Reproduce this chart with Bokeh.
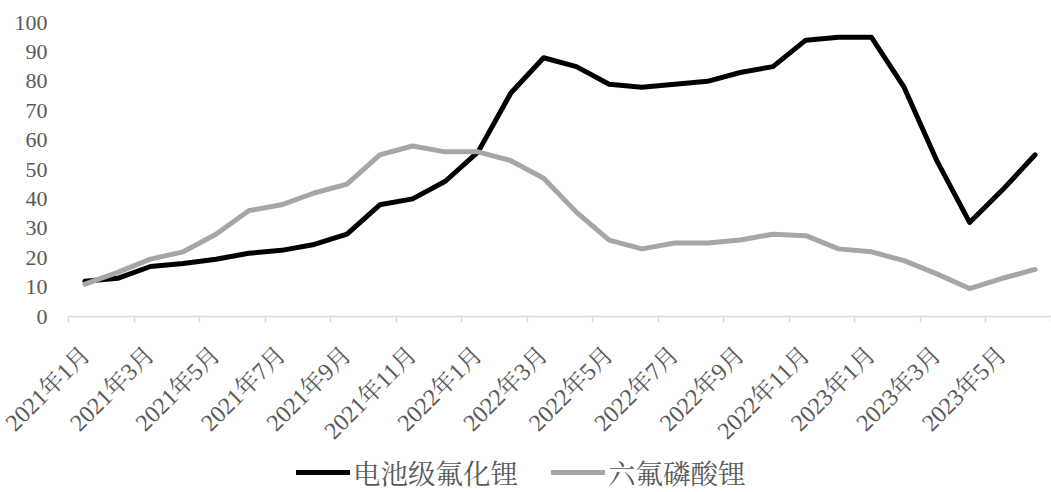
from math import pi
from bokeh.plotting import figure
from bokeh.layouts import column
from bokeh.models import (Range1d, FixedTicker, LinearAxis, Legend, LegendItem,
                          ColumnDataSource, CustomLabelingPolicy)
from bokeh.embed import file_html
from bokeh.resources import INLINE

months = ["2021年1月", "2021年2月", "2021年3月", "2021年4月", "2021年5月", "2021年6月",
          "2021年7月", "2021年8月", "2021年9月", "2021年10月", "2021年11月", "2021年12月",
          "2022年1月", "2022年2月", "2022年3月", "2022年4月", "2022年5月", "2022年6月",
          "2022年7月", "2022年8月", "2022年9月", "2022年10月", "2022年11月", "2022年12月",
          "2023年1月", "2023年2月", "2023年3月", "2023年4月", "2023年5月", "2023年6月"]
lif = [12, 13, 17, 18, 19.5, 21.5, 22.5, 24.5, 28, 38,
       40, 46, 56, 76, 88, 85, 79, 78, 79, 80,
       83, 85, 94, 95, 95, 78, 53, 32, 43, 55]
lipf6 = [11, 15, 19.5, 22, 28, 36, 38, 42, 45, 55,
         58, 56, 56, 53, 47, 35.5, 26, 23, 25, 25,
         26, 28, 27.5, 23, 22, 19, 14.5, 9.5, 13, 16]
series_names = ["电池级氟化锂", "六氟磷酸锂"]
series_colors = ["#000000", "#a6a6a6"]
y_ticks = list(range(0, 101, 10))

FONT = "'Liberation Serif', 'Noto Serif CJK SC', 'Noto Sans CJK SC', serif"
TXT = "#595959"

idx = list(range(len(months)))
src = ColumnDataSource(dict(x=idx, a=lif, b=lipf6))

p = figure(width=1051, height=458, output_backend="svg", toolbar_location=None,
           x_range=Range1d(-0.5, len(months) - 0.5), y_range=Range1d(0, 100),
           x_axis_type=None, y_axis_type=None,
           min_border_left=68, min_border_right=0, min_border_top=22, min_border_bottom=142)
p.outline_line_color = None
p.xgrid.visible = False
p.ygrid.visible = False

# y axis
ya = LinearAxis(ticker=FixedTicker(ticks=y_ticks))
ya.axis_line_color = None
ya.major_tick_line_color = None
ya.minor_tick_line_color = None
ya.major_tick_out = 0
ya.major_label_standoff = 21
ya.major_label_text_font = FONT
ya.major_label_text_font_size = "22px"
ya.major_label_text_color = TXT
p.add_layout(ya, "left")

# x axis line with tick marks at category boundaries (no labels)
hide_all = CustomLabelingPolicy(code="""
    const all = [...indices]
    for (const i of all) indices.unset(i)
    return indices
""")
xa = LinearAxis(ticker=FixedTicker(ticks=[i - 0.5 for i in range(0, len(months) + 1, 2)]),
                major_label_policy=hide_all)
xa.axis_line_color = "#d9d9d9"
xa.axis_line_width = 1.5
xa.major_tick_line_color = "#d9d9d9"
xa.major_tick_line_width = 1.5
xa.major_tick_out = 6
xa.major_tick_in = 0
xa.minor_tick_line_color = None
xa.major_label_text_font_size = "1px"
xa.major_label_standoff = 0
p.add_layout(xa, "below")

# x labels at category centres
label_ticks = idx[::2]
xl = LinearAxis(ticker=FixedTicker(ticks=label_ticks),
                major_label_overrides={i: months[i] for i in label_ticks})
xl.axis_line_color = None
xl.major_tick_line_color = None
xl.minor_tick_line_color = None
xl.major_tick_out = 0
xl.major_tick_in = 0
xl.major_label_standoff = 24
xl.major_label_orientation = pi / 4
xl.major_label_text_font = FONT
xl.major_label_text_font_size = "24px"
xl.major_label_text_color = TXT
p.add_layout(xl, "below")

p.line("x", "a", source=src, line_color=series_colors[0], line_width=5,
       line_join="round", line_cap="round")
p.line("x", "b", source=src, line_color=series_colors[1], line_width=5,
       line_join="round", line_cap="round")

# legend strip (its own small plot placed under the chart)
lg = figure(width=1051, height=34, output_backend="svg", toolbar_location=None,
            x_range=Range1d(-0.5, len(months) - 0.5), y_range=Range1d(1000, 1001),
            x_axis_type=None, y_axis_type=None, min_border=0)
lg.outline_line_color = None
lg.xgrid.visible = False
lg.ygrid.visible = False
k1 = lg.line("x", "a", source=src, line_color=series_colors[0], line_width=5, line_cap="round")
k2 = lg.line("x", "b", source=src, line_color=series_colors[1], line_width=5, line_cap="round")
legend = Legend(items=[LegendItem(label=series_names[0], renderers=[k1]),
                       LegendItem(label=series_names[1], renderers=[k2])],
                orientation="horizontal", location=(228, 0),
                label_text_font=FONT, label_text_font_size="27.5px",
                label_text_color=TXT, glyph_width=54, glyph_height=28,
                label_standoff=3, spacing=33, padding=0, margin=0,
                border_line_color=None, background_fill_alpha=0)
lg.add_layout(legend, "center")

layout = column(p, lg, spacing=0)
open("out.html", "w").write(file_html(layout, INLINE))
